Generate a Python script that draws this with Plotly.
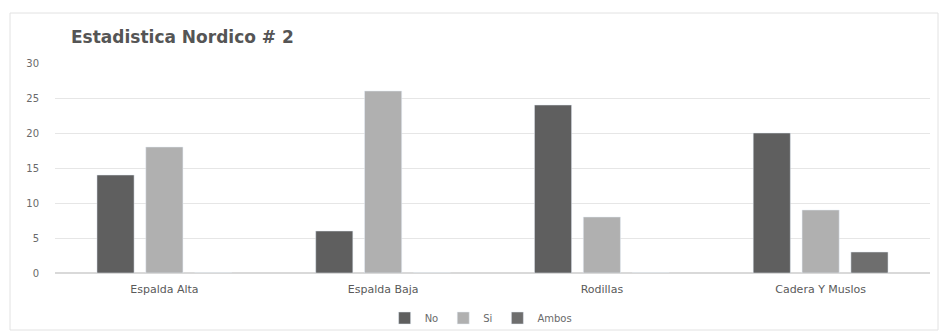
import plotly.graph_objects as go

categories = ["Espalda Alta", "Espalda Baja", "Rodillas", "Cadera Y Muslos"]
no_vals = [14, 6, 24, 20]
si_vals = [18, 26, 8, 9]
ambos_vals = [0, 0, 0, 3]
y_ticks = [0, 5, 10, 15, 20, 25, 30]

fig = go.Figure()
fig.add_trace(go.Bar(name="No", x=categories, y=no_vals, marker_color="#5f5f5f"))
fig.add_trace(go.Bar(name="Si", x=categories, y=si_vals, marker_color="#b0b0b0"))
fig.add_trace(go.Bar(name="Ambos", x=categories, y=ambos_vals, marker_color="#6e6e6e"))

fig.update_layout(
    width=941, height=333,
    margin=dict(l=55, r=11, t=63, b=60, autoexpand=False),
    paper_bgcolor="white", plot_bgcolor="white",
    barmode="group", bargap=0.33, bargroupgap=0.24,
    font=dict(family="DejaVu Sans", color="#6a6a6a", size=10),
    title=dict(text="<b>Estadistica Nordico # 2</b>", x=71/941, xanchor="left",
               y=1 - 37/333, yanchor="middle",
               font=dict(family="DejaVu Sans", size=17, color="#555555")),
    showlegend=True,
    legend=dict(orientation="h", x=0.487, xanchor="center", yref="container",
                y=1 - 318/333, yanchor="middle", bgcolor="rgba(0,0,0,0)",
                font=dict(size=10, color="#6a6a6a"), itemwidth=30, traceorder="normal"),
    shapes=[dict(type="rect", xref="paper", yref="paper",
                 x0=-45/875, x1=1 + 8/875, y0=-57/210, y1=1 + 50/210,
                 line=dict(color="#e2e2e2", width=1), layer="below")],
)
fig.update_yaxes(range=[0, 30], tickvals=y_ticks, showgrid=True, gridcolor="#e6e6e6",
                 zeroline=True, zerolinecolor="#d9d9d9", showline=False,
                 tickfont=dict(size=10, color="#6a6a6a"), ticklabelstandoff=15)
fig.update_xaxes(showline=False, tickfont=dict(size=11, color="#5a5a5a"),
                 ticklabelstandoff=8)

fig.write_html("out.html")
